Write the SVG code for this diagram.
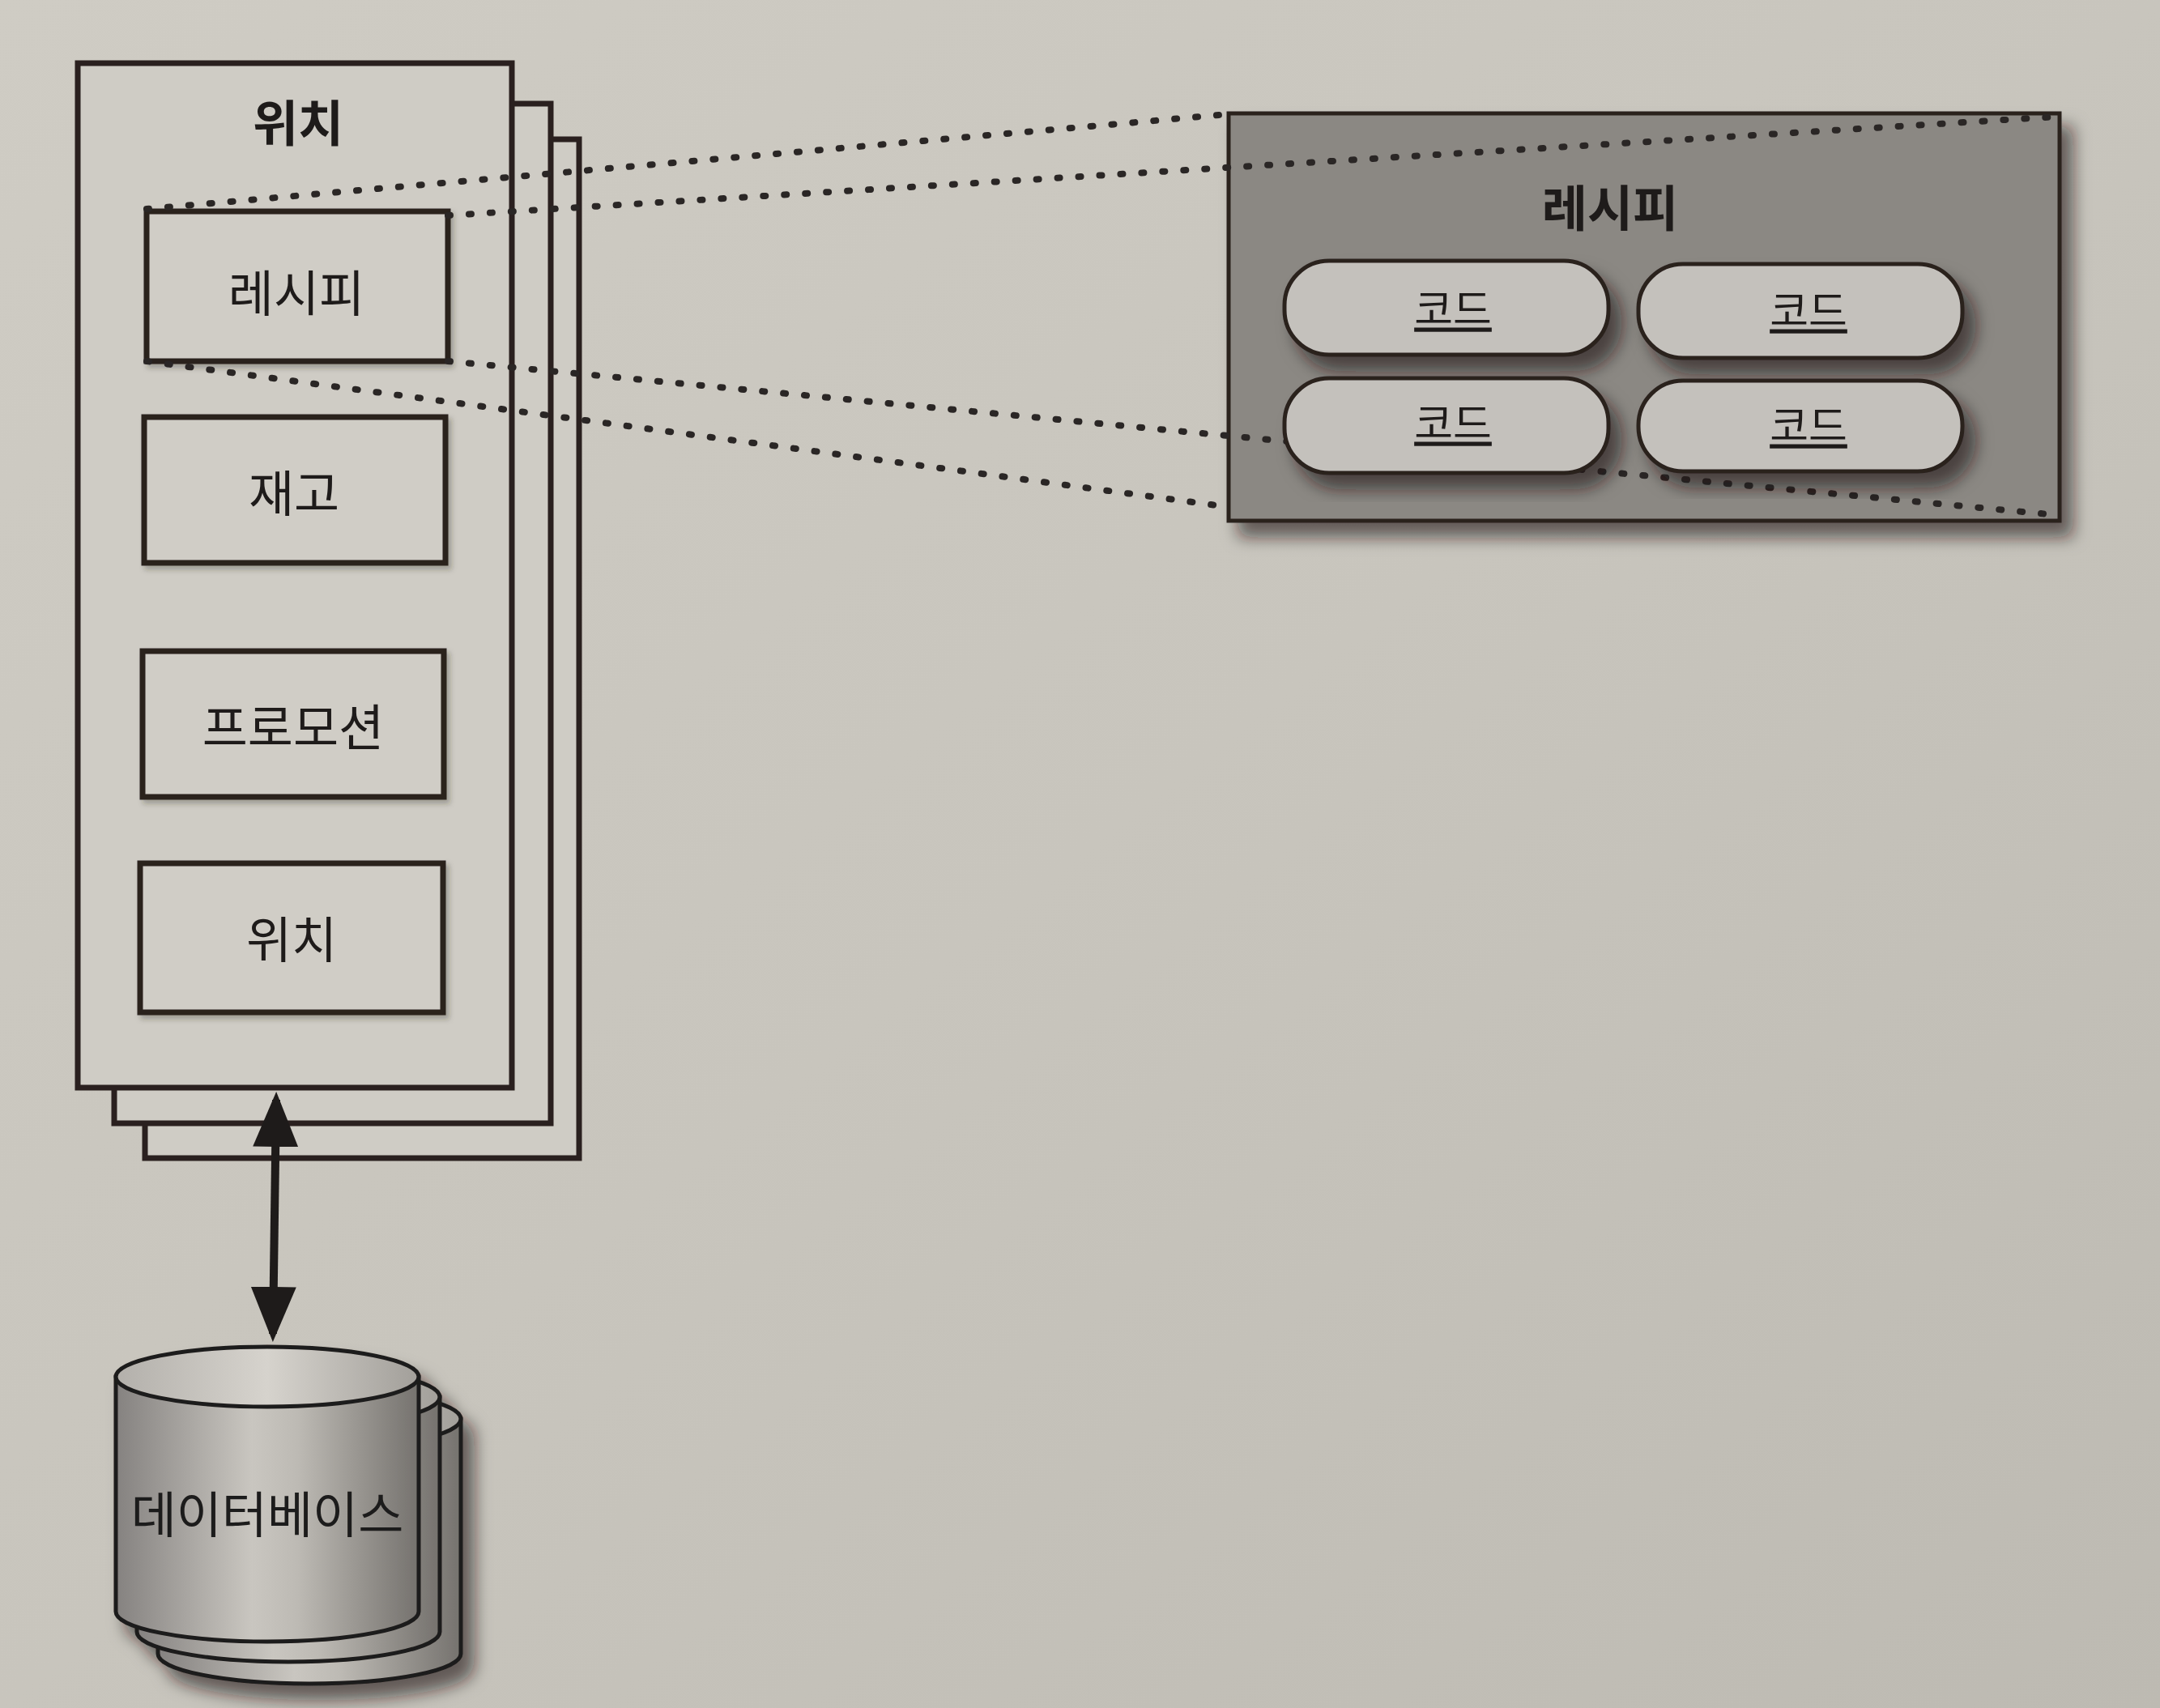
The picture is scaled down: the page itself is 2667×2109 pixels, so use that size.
<svg xmlns="http://www.w3.org/2000/svg" width="2667" height="2109" viewBox="0 0 2667 2109">
<defs>
<linearGradient id="page" x1="0" y1="0" x2="1" y2="1">
<stop offset="0" stop-color="#cfccc4"/>
<stop offset="0.5" stop-color="#c8c5bd"/>
<stop offset="1" stop-color="#bdbab2"/>
</linearGradient>
<linearGradient id="metal" x1="0" y1="0" x2="1" y2="0">
<stop offset="0" stop-color="#858280"/>
<stop offset="0.45" stop-color="#c9c6c0"/>
<stop offset="0.6" stop-color="#bdbab4"/>
<stop offset="1" stop-color="#75726e"/>
</linearGradient>
<linearGradient id="metalTop" x1="0" y1="0" x2="1" y2="0">
<stop offset="0" stop-color="#b3b0ab"/>
<stop offset="0.5" stop-color="#d6d3cd"/>
<stop offset="1" stop-color="#a29f9a"/>
</linearGradient>
<filter id="shadow" x="-20%" y="-20%" width="150%" height="150%">
<feDropShadow dx="14" dy="18" stdDeviation="10" flood-color="#1a1816" flood-opacity="0.6"/>
</filter>
<filter id="softshadow" x="-10%" y="-10%" width="130%" height="130%">
<feDropShadow dx="4" dy="5" stdDeviation="3" flood-color="#2a2724" flood-opacity="0.3"/>
</filter>
<marker id="head" markerUnits="userSpaceOnUse" markerWidth="68" markerHeight="56" refX="58" refY="28" orient="auto-start-reverse">
<path d="M0,0 L68,28 L0,56 Z" fill="#1e1b1a"/>
</marker>
<style>
.txt{font-family:"Noto Sans CJK KR","Noto Sans",sans-serif;fill:#1e1b1a;text-anchor:middle;dominant-baseline:central}
.title{font-weight:700;font-size:61px}
.lbl{font-size:61px}
.code{font-size:52px;text-decoration:underline}
.page{fill:#cfccc5;stroke:#2a201f;stroke-width:7}
.box{fill:#d0cdc6;stroke:#2a201f;stroke-width:7;filter:url(#softshadow)}
.pill{fill:#c4c1bc;stroke:#2a201f;stroke-width:5;filter:url(#shadow)}
.dot{fill:none;stroke:#2a2625;stroke-width:8;stroke-linecap:round;stroke-dasharray:3 23}
.cyl{fill:url(#metal);stroke:#1e1b1a;stroke-width:5}
.cyltop{fill:url(#metalTop);stroke:#1e1b1a;stroke-width:5}
</style>
</defs>
<rect x="0" y="0" width="2667" height="2109" fill="url(#page)"/>

<g id="location-stack">
<rect class="page" x="179" y="172" width="536" height="1258"/>
<rect class="page" x="141" y="128" width="539" height="1259"/>
<rect class="page" x="96" y="78" width="536" height="1265"/>
<text class="txt title" x="368" y="148">위치</text>
</g>
<g id="node-recipe-small">
<rect class="box" x="181" y="261" width="372" height="185"/>
<text class="txt lbl" x="366" y="358">레시피</text>
</g>
<g id="node-inventory">
<rect class="box" x="178" y="515" width="372" height="180"/>
<text class="txt lbl" x="363" y="605">재고</text>
</g>
<g id="node-promotion">
<rect class="box" x="176" y="804" width="372" height="180"/>
<text class="txt lbl" x="362" y="894">프로모션</text>
</g>
<g id="node-location">
<rect class="box" x="173" y="1066" width="374" height="184"/>
<text class="txt lbl" x="360" y="1156">위치</text>
</g>

<g id="recipe-detail">
<rect x="1517" y="140" width="1026" height="503" fill="#8b8883" stroke="#2a201f" stroke-width="5" filter="url(#shadow)"/>
<text class="txt title" x="1988" y="253">레시피</text>
</g>

<g id="connectors">
<line class="dot" x1="181" y1="258" x2="1517" y2="141"/>
<line class="dot" x1="553" y1="266" x2="2540" y2="144"/>
<line class="dot" x1="181" y1="446" x2="1517" y2="626"/>
<line class="dot" x1="553" y1="446" x2="2540" y2="636"/>
<line x1="341" y1="1358" x2="337" y2="1647" stroke="#1e1b1a" stroke-width="10" marker-start="url(#head)" marker-end="url(#head)"/>
</g>

<g id="code-1">
<rect class="pill" x="1586" y="322" width="400" height="116" rx="55"/>
<text class="txt code" x="1794" y="378">코드</text>
</g>
<g id="code-2">
<rect class="pill" x="2023" y="326" width="400" height="116" rx="55"/>
<text class="txt code" x="2233" y="380">코드</text>
</g>
<g id="code-3">
<rect class="pill" x="1586" y="467" width="400" height="117" rx="55"/>
<text class="txt code" x="1794" y="519">코드</text>
</g>
<g id="code-4">
<rect class="pill" x="2023" y="470" width="400" height="112" rx="55"/>
<text class="txt code" x="2233" y="522">코드</text>
</g>

<g id="database" filter="url(#shadow)">
<g transform="translate(52,52)">
<path class="cyl" d="M143,1700 L143,1990 A187,37 0 0 0 517,1990 L517,1700 Z"/>
<ellipse class="cyltop" cx="330" cy="1700" rx="187" ry="37"/>
</g>
<g transform="translate(26,25)">
<path class="cyl" d="M143,1700 L143,1990 A187,37 0 0 0 517,1990 L517,1700 Z"/>
<ellipse class="cyltop" cx="330" cy="1700" rx="187" ry="37"/>
</g>
<path class="cyl" d="M143,1700 L143,1990 A187,37 0 0 0 517,1990 L517,1700 Z"/>
<ellipse class="cyltop" cx="330" cy="1700" rx="187" ry="37"/>
<text class="txt lbl" x="330" y="1866">데이터베이스</text>
</g>
</svg>
